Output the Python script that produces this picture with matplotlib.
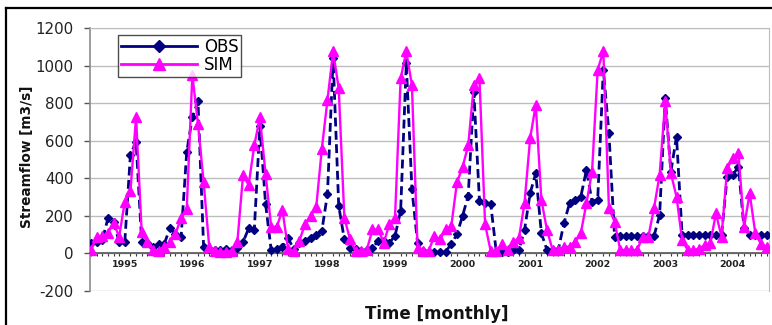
import matplotlib
matplotlib.use("Agg")
import matplotlib.pyplot as plt
from matplotlib.lines import Line2D
import numpy as np

plt.rcParams["axes.unicode_minus"] = False

# ---------------- data ----------------
years = ["1995", "1996", "1997", "1998", "1999", "2000", "2001", "2002", "2003", "2004"]
year_pos = [6, 18, 30, 42, 54, 66, 78, 90, 102, 114]

obs = [
    57, 62, 70, 186, 168, 62, 62, 525, 595, 62,
    55, 35, 50, 50, 133, 106, 88, 540, 725, 810,
    35, 25, 20, 20, 25, 20, 30, 60, 133, 124,
    680, 265, 18, 21, 35, 80, 25, 55, 66, 84,
    100, 120, 316, 1040, 253, 75, 30, 25, 12, 20,
    30, 66, 66, 57, 93, 227, 1012, 343, 57, 12,
    10, 5, 5, 10, 50, 102, 200, 307, 860, 280,
    270, 262, 5, 5, 9, 18, 18, 124, 320, 427,
    107, 18, 18, 18, 160, 267, 284, 302, 444, 276,
    284, 978, 640, 89, 92, 92, 92, 92, 92, 92,
    92, 204, 827, 435, 622, 98, 98, 98, 98, 98,
    98, 98, 98, 409, 418, 462, 133, 98, 98, 98,
    98]

sim = [
    18, 90, 92, 110, 160, 90, 275, 330, 725, 115,
    60, 18, 12, 35, 62, 106, 186, 235, 950, 690,
    380, 35, 15, 10, 10, 15, 62, 415, 365, 575,
    725, 425, 142, 142, 230, 25, 12, 66, 155, 200,
    245, 557, 816, 1075, 879, 191, 75, 12, 12, 20,
    128, 128, 57, 155, 191, 932, 1075, 896, 30, 12,
    15, 93, 75, 128, 146, 378, 460, 575, 896, 932,
    155, 12, 12, 48, 18, 62, 80, 267, 613, 791,
    284, 124, 18, 18, 36, 36, 62, 107, 267, 436,
    978, 1076, 240, 169, 18, 18, 18, 18, 89, 89,
    240, 418, 809, 427, 302, 71, 18, 18, 25, 44,
    53, 213, 89, 453, 507, 533, 142, 320, 107, 50,
    36]

months = np.arange(len(obs))

OBS_C = "#000080"
SIM_C = "#FF00FF"

W, H = 772, 325
fig = plt.figure(figsize=(W / 100, H / 100), dpi=100)
fig.patch.set_facecolor("white")

ax = fig.add_axes([90 / W, 1 - 291 / H, (769 - 90) / W, (291 - 28) / H])

ax.plot(months, obs, color=OBS_C, lw=2.0, ls=(0, (3.2, 1.6)),
        marker="D", ms=4.5, mfc=OBS_C, mec=OBS_C, zorder=3)
ax.plot(months, sim, color=SIM_C, lw=1.7, ls="-",
        marker="^", ms=6.5, mfc=SIM_C, mec=SIM_C, zorder=4)

ax.set_ylim(-200, 1200)
ax.set_xlim(-0.18, 120.43)
ax.set_yticks(np.arange(-200, 1201, 200))
ax.yaxis.grid(True, color="#bdbdbd", lw=1.0)
ax.set_axisbelow(True)

ax.spines["bottom"].set_position(("data", 0))
ax.spines["bottom"].set_color("#555555")
ax.spines["bottom"].set_linewidth(1.2)
ax.spines["left"].set_color("#8c8c8c")
ax.spines["left"].set_linewidth(1.2)
ax.spines["right"].set_color("#bdbdbd")
ax.spines["top"].set_color("#bdbdbd")

ax.set_xticks(year_pos)
ax.set_xticklabels(years, fontsize=6.8, fontweight="bold", color="#222222")
ax.set_xticks(months, minor=True)
ax.tick_params(axis="x", which="major", length=0, pad=5)
ax.tick_params(axis="x", which="minor", length=2.5, width=0.8, color="#333333", direction="out")
ax.tick_params(axis="y", which="major", length=4, width=1, color="#555555",
               labelsize=10.8, pad=8, labelcolor="#222222")

handles = [
    Line2D([0], [0], color=OBS_C, lw=2.0, marker="D", ms=6, mfc=OBS_C, mec=OBS_C),
    Line2D([0], [0], color=SIM_C, lw=2.0, marker="^", ms=8, mfc=SIM_C, mec=SIM_C),
]
leg = ax.legend(handles, ["OBS", "SIM"], loc="upper left",
                bbox_to_anchor=((118 - 90) / 679, 1 - (35 - 28) / 263),
                borderaxespad=0, fontsize=12, handlelength=4.6, handletextpad=0.4,
                labelspacing=0.05, borderpad=0.15, frameon=True, fancybox=False)
leg.get_frame().set_edgecolor("#222222")
leg.get_frame().set_linewidth(1.0)
leg.set_zorder(10)

fig.text(27 / W, 1 - 157 / H, "Streamflow [m3/s]", rotation=90, ha="center", va="center",
         fontsize=9.8, fontweight="bold", color="#111111")
fig.text(437 / W, 1 - 314 / H, "Time [monthly]", ha="center", va="center",
         fontsize=12, fontweight="bold", color="#111111")

# outer black frame (left and top edges visible)
fig.add_artist(Line2D([6 / W, 6 / W], [0, 1 - 8 / H], color="black", lw=1.6,
                      transform=fig.transFigure))
fig.add_artist(Line2D([6 / W, 1], [1 - 8 / H, 1 - 8 / H], color="black", lw=1.6,
                      transform=fig.transFigure))

fig.savefig("out.png", dpi=100)
